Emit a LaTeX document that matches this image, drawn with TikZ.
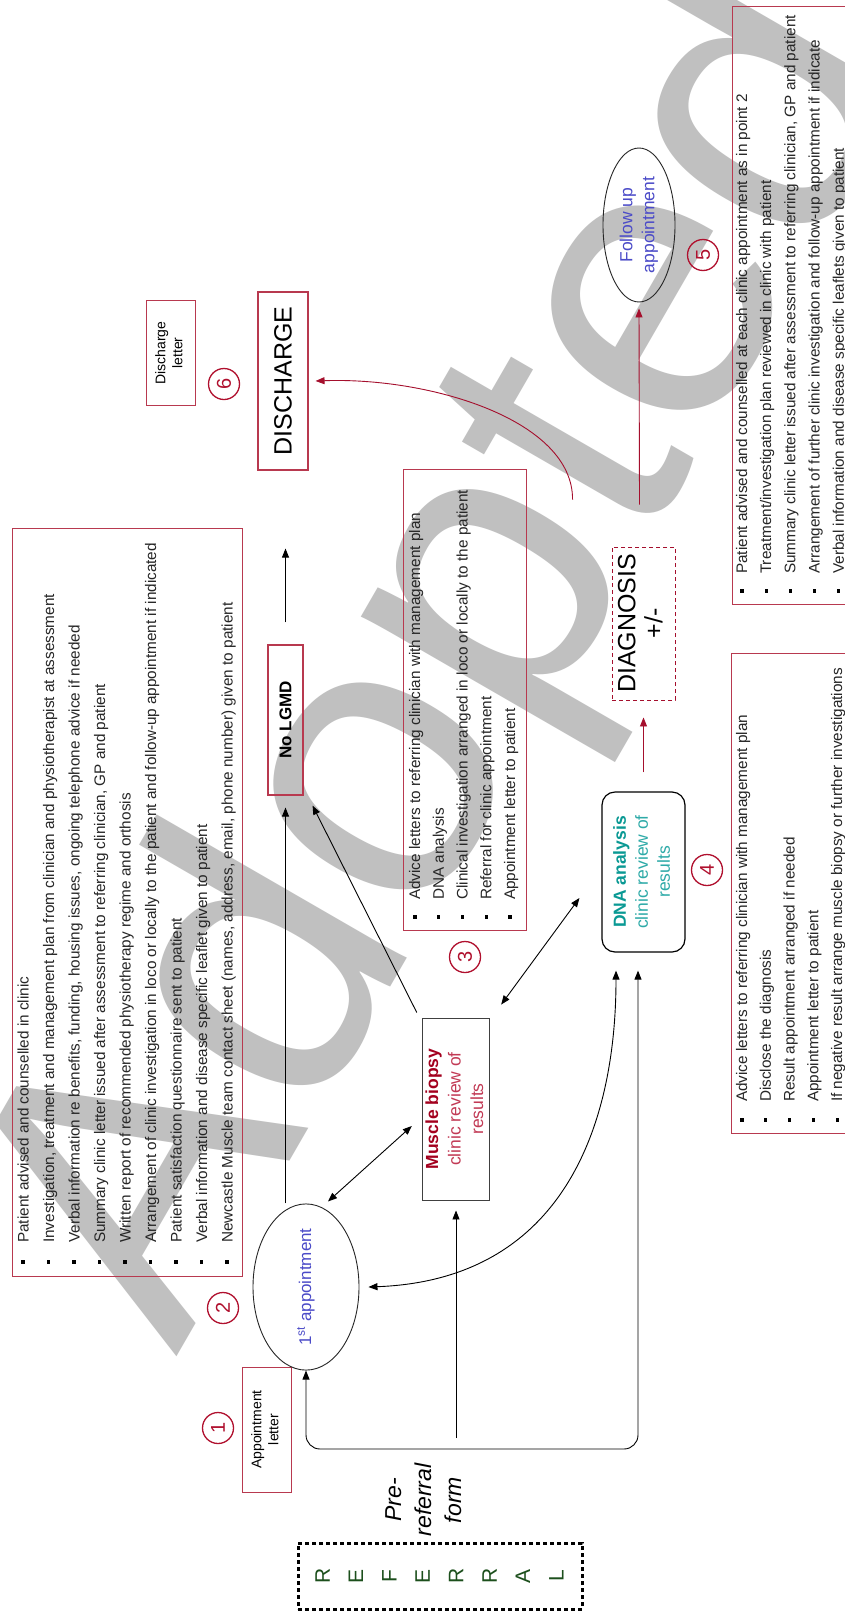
\documentclass[tikz,border=0pt]{standalone}
\usepackage{fontspec}
\setmainfont{Liberation Sans}
\usetikzlibrary{arrows.meta,calc,shapes.geometric}

\definecolor{boxred}{HTML}{B8394F}
\definecolor{numred}{HTML}{B0102E}
\definecolor{arrred}{HTML}{A50F2D}
\definecolor{apptblue}{HTML}{4B4BC8}
\definecolor{dnadark}{HTML}{0A9994}
\definecolor{dnalight}{HTML}{2EAAA8}
\definecolor{biopsyred}{HTML}{A3001E}
\definecolor{biopsylight}{HTML}{C23A55}
\definecolor{refgreen}{HTML}{1C4F1C}
\definecolor{wmgrey}{HTML}{C0C0C0}
\definecolor{listgrey}{HTML}{262626}

\begin{document}
\begin{tikzpicture}[x=1pt,y=-1pt,
  redbox/.style={draw=boxred, line width=0.8pt, inner sep=0pt},
  plainbox/.style={draw=black!75, line width=0.9pt, inner sep=0pt},
  listline/.style={rotate=90, anchor=base west, inner sep=0pt, text=listgrey,
    font=\fontsize{15.3}{18}\selectfont},
  sqbullet/.style={rectangle, fill=black, minimum size=3.2pt, inner sep=0pt},
  numcirc/.style={circle, draw=numred, line width=1.3pt, minimum size=31pt, inner sep=0pt,
    text=numred, font=\fontsize{20}{22}\selectfont},
  oval/.style={ellipse, draw=black!85, line width=0.9pt, inner sep=0pt},
  arr/.style={-{Triangle[length=9pt,width=7pt]}, line width=0.9pt},
  darr/.style={{Triangle[length=9pt,width=7pt]}-{Triangle[length=9pt,width=7pt]}, line width=0.9pt},
  redarr/.style={-{Triangle[length=9pt,width=7pt]}, line width=0.9pt, draw=arrred, color=arrred},
  watermark/.style={rotate=60, inner sep=0pt, text=wmgrey,
    font=\fontsize{398}{398}\selectfont}
]
\useasboundingbox (0,0) rectangle (845,1619);
\clip (0,0) rectangle (845,1619);
\fill[white] (0,0) rectangle (845,1619);

% watermark behind everything
\node[watermark] (wm) at (458,664) {Adopted};

% ---------- referral source ----------
\node[draw=black, line width=3pt, dash pattern=on 4pt off 3pt,
      minimum width=284pt, minimum height=66pt, inner sep=0pt,
      text=refgreen, font=\fontsize{21}{33.4}\selectfont] (referral) at (440,1576)
  {\rotatebox{90}{\begin{tabular}{@{}c@{}}R\\E\\F\\E\\R\\R\\A\\L\end{tabular}}};
\node[inner sep=0pt, font=\itshape\fontsize{23}{30}\selectfont] (preref) at (425,1500)
  {\rotatebox{90}{\begin{tabular}{@{}c@{}}Pre-\\referral\\form\end{tabular}}};

% ---------- stage 1 and 2 ----------
\node[redbox, minimum width=49pt, minimum height=125pt,
      font=\fontsize{14}{17}\selectfont] (apptletter) at (266.5,1429.5)
  {\rotatebox{90}{\begin{tabular}{@{}c@{}}Appointment\\letter\end{tabular}}};
\node[numcirc] (n1) at (218,1428) {\rotatebox{90}{1}};

\node[oval, minimum width=106pt, minimum height=150pt,
      text=apptblue, font=\fontsize{17}{20}\selectfont] (appt1) at (306,1287)
  {\rotatebox{90}{1\textsuperscript{st} appointment}};
\node[numcirc] (n2) at (223,1308) {\rotatebox{90}{2}};

\node[redbox, minimum width=230pt, minimum height=748pt] (box2) at (127,902) {};
\foreach \t [count=\i from 0] in {
  {Patient advised and counselled in clinic},
  {Investigation, treatment and management plan from clinician and physiotherapist at assessment},
  {Verbal information re benefits, funding, housing issues, ongoing telephone advice if needed},
  {Summary clinic letter issued after assessment to referring clinician, GP and patient},
  {Written report of recommended physiotherapy regime and orthosis},
  {Arrangement of clinic investigation in loco or locally to the patient and follow-up appointment if indicated},
  {Patient satisfaction questionnaire sent to patient},
  {Verbal information and disease specific leaflet given to patient},
  {Newcastle Muscle team contact sheet (names, address, email, phone number) given to patient}}{
  \node[listline] (btwo\i) at (28.5+25.5*\i,1243) {\t};
  \node[sqbullet] at (23+25.5*\i,1262) {};
}

% ---------- stage 3 ----------
\node[plainbox, minimum width=66pt, minimum height=182pt,
      text=biopsylight, font=\fontsize{17.5}{22.5}\selectfont] (biopsy) at (456,1109)
  {\rotatebox{90}{\begin{tabular}{@{}c@{}}{\bfseries\color{biopsyred}Muscle biopsy}\\clinic review of\\results\end{tabular}}};
\node[numcirc] (n3) at (465,957) {\rotatebox{90}{3}};

\node[redbox, minimum width=123pt, minimum height=461pt] (box3) at (464.5,699.5) {};
\foreach \t [count=\i from 0] in {
  {Advice letters to referring clinician with management plan},
  {DNA analysis},
  {Clinical investigation arranged in loco or locally to the patient},
  {Referral for clinic appointment},
  {Appointment letter to patient}}{
  \node[listline] (bthree\i) at (420+23.75*\i,900) {\t};
  \node[sqbullet] at (415+23.75*\i,917) {};
}

\node[draw=boxred, line width=1.1pt, inner sep=0pt, minimum width=35pt, minimum height=150pt,
      font=\bfseries\fontsize{17}{20}\selectfont] (nolgmd) at (285.5,720)
  {\rotatebox{90}{No LGMD}};

% ---------- stage 4 ----------
\node[draw=black, line width=1.2pt, rounded corners=13pt, inner sep=0pt,
      minimum width=83pt, minimum height=160pt,
      text=dnalight, font=\fontsize{17.5}{22}\selectfont] (dna) at (643.5,872)
  {\rotatebox{90}{\begin{tabular}{@{}c@{}}{\bfseries\color{dnadark}DNA analysis}\\clinic review of\\results\end{tabular}}};
\node[numcirc] (n4) at (707,870) {\rotatebox{90}{4}};

\node[redbox, minimum width=170pt, minimum height=480pt] (box4) at (816,893) {};
\foreach \t [count=\i from 0] in {
  {Advice letters to referring clinician with management plan},
  {Disclose the diagnosis},
  {Result appointment arranged if needed},
  {Appointment letter to patient},
  {If negative result arrange muscle biopsy or further investigations}}{
  \node[listline] (bfour\i) at (747+23.8*\i,1102) {\t};
  \node[sqbullet] at (742+23.8*\i,1120) {};
}

\node[draw=arrred, line width=0.9pt, dash pattern=on 4pt off 3pt, inner sep=0pt,
      minimum width=63pt, minimum height=153pt,
      font=\fontsize{25}{27}\selectfont] (diag) at (643.5,623.5)
  {\rotatebox{90}{\begin{tabular}{@{}c@{}}DIAGNOSIS\\+/-\end{tabular}}};

% ---------- stage 5 ----------
\node[oval, minimum width=72pt, minimum height=154pt,
      text=apptblue, font=\fontsize{17.5}{22}\selectfont] (followup) at (639,225)
  {\rotatebox{90}{\begin{tabular}{@{}c@{}}Follow up\\appointment\end{tabular}}};
\node[numcirc] (n5) at (703,255) {\rotatebox{90}{5}};

\node[redbox, minimum width=170pt, minimum height=598pt] (box5) at (817,305) {};
\foreach \t [count=\i from 0] in {
  {Patient advised and counselled at each clinic appointment as in point 2},
  {Treatment/investigation plan reviewed in clinic with patient},
  {Summary clinic letter issued after assessment to referring clinician, GP and patient},
  {Arrangement of further clinic investigation and follow-up appointment if indicate},
  {Verbal information and disease specific leaflets given to patient}}{
  \node[listline] (bfive\i) at (747+24.2*\i,574) {\t};
  \node[sqbullet] at (742+24.2*\i,591) {};
}

% ---------- stage 6 ----------
\node[draw=boxred, line width=1.1pt, inner sep=0pt, minimum width=50pt, minimum height=178pt,
      font=\fontsize{25}{27}\selectfont] (discharge) at (283,381)
  {\rotatebox{90}{DISCHARGE}};
\node[redbox, minimum width=49pt, minimum height=105pt,
      font=\fontsize{14}{17}\selectfont] (dischletter) at (170.5,353)
  {\rotatebox{90}{\begin{tabular}{@{}c@{}}Discharge\\letter\end{tabular}}};
\node[numcirc] (n6) at (224,384) {\rotatebox{90}{6}};

% ---------- connectors ----------
\coordinate (hub) at (biopsy.south |- 0,1449);
\draw[darr, rounded corners=14pt] ($(dna.south)+(-5.5,18)$) |- (hub) -| (appt1.south);
\draw[arr] ($(hub)+(0,-11)$) -- ($(biopsy.south)+(0,10)$);

\draw[arr, shorten >=12pt] (nolgmd.south |- appt1.north) -- (nolgmd.south);
\draw[arr, shorten <=22pt, shorten >=78pt] (nolgmd.north) -- (nolgmd.north |- discharge.south);

\draw[darr] ($(appt1.east)+(9,0)$) .. controls (560,1280) and (616,1130) .. ($(dna.south)+(-27.5,18)$);
\draw[darr] ($(appt1.north)+(22,-2)$) -- ($(biopsy.west)+(-10,17)$);
\draw[darr] ($(biopsy.north east)+(11,-13)$) -- ($(dna.west)+(-22,26)$);
\draw[arr] ($(biopsy.north west)+(-5,-5)$) -- ($(nolgmd.south east)+(9,10)$);

\draw[redarr] ($(dna.north)+(0,-19)$) -- ($(diag.south)+(0,17)$);
\draw[redarr] ($(diag.north)+(-4,-42)$) -- ($(followup.south)+(0,6)$);
\draw[redarr] ($(diag.north west)+(-39,-47)$) .. controls (573,420) and (430,377) .. ($(discharge.east)+(7,0)$);
\end{tikzpicture}
\end{document}
